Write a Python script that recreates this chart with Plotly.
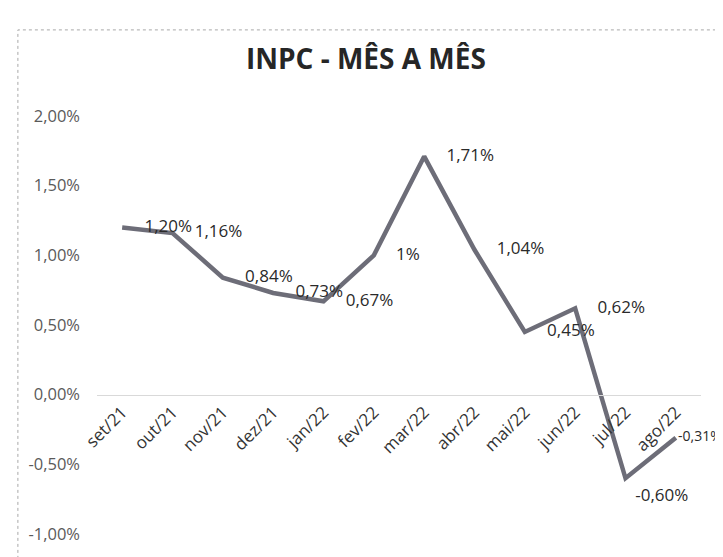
import plotly.graph_objects as go

months = ["set/21", "out/21", "nov/21", "dez/21", "jan/22", "fev/22",
          "mar/22", "abr/22", "mai/22", "jun/22", "jul/22", "ago/22"]
inpc = [1.20, 1.16, 0.84, 0.73, 0.67, 1.00, 1.71, 1.04, 0.45, 0.62, -0.60, -0.31]
labels = ["1,20%", "1,16%", "0,84%", "0,73%", "0,67%", "1%",
          "1,71%", "1,04%", "0,45%", "0,62%", "-0,60%", "-0,31%"]
y_ticks = [-1.0, -0.5, 0.0, 0.5, 1.0, 1.5, 2.0]
y_tick_text = ["-1,00%", "-0,50%", "0,00%", "0,50%", "1,00%", "1,50%", "2,00%"]

positions = ["middle right"] * len(months)
positions[10] = "bottom right"
msizes = [34] * len(months)
msizes[10] = 14
msizes[11] = 2
lsizes = [17] * len(months)
lsizes[11] = 14

fig = go.Figure()
fig.add_trace(go.Scatter(
    x=months, y=inpc, mode="lines+markers+text",
    line=dict(color="#6d6d78", width=4.5),
    marker=dict(size=msizes, color="rgba(0,0,0,0)", line=dict(width=0)),
    text=labels, textposition=positions,
    textfont=dict(family="Open Sans", size=lsizes, color="#2a2a2a"),
    cliponaxis=False, hoverinfo="skip",
))

fig.update_layout(
    width=723, height=557,
    margin=dict(l=89, r=30, t=108, b=31, autoexpand=False),
    paper_bgcolor="white", plot_bgcolor="white",
    showlegend=False,
    title=dict(text="<b>INPC - MÊS A MÊS</b>", x=0.495, xanchor="center",
               y=0.908, yanchor="middle",
               font=dict(family="Open Sans", size=28, color="#262626")),
    xaxis=dict(type="category", range=[-0.5, 11.5], autorange=False,
               anchor="free", position=1/3, automargin=False,
               showline=True, linecolor="#d9d9d9", linewidth=1,
               showgrid=False, zeroline=False, ticks="",
               tickangle=-45,
               tickfont=dict(family="Open Sans", size=17, color="#333333")),
    yaxis=dict(range=[-1.0, 2.0], autorange=False,
               tickvals=y_ticks, ticktext=y_tick_text,
               automargin=False,
               showgrid=False, zeroline=False, showline=False, ticks="",
               ticklabelstandoff=16,
               tickfont=dict(family="Open Sans", size=16.5, color="#5a5a5a")),
    shapes=[dict(type="rect", xref="paper", yref="paper",
                 x0=-0.131, x1=1.06, y0=-0.065, y1=1.206,
                 line=dict(color="#a8a8a8", width=1, dash="dot"))],
)

fig.write_html("out.html")
